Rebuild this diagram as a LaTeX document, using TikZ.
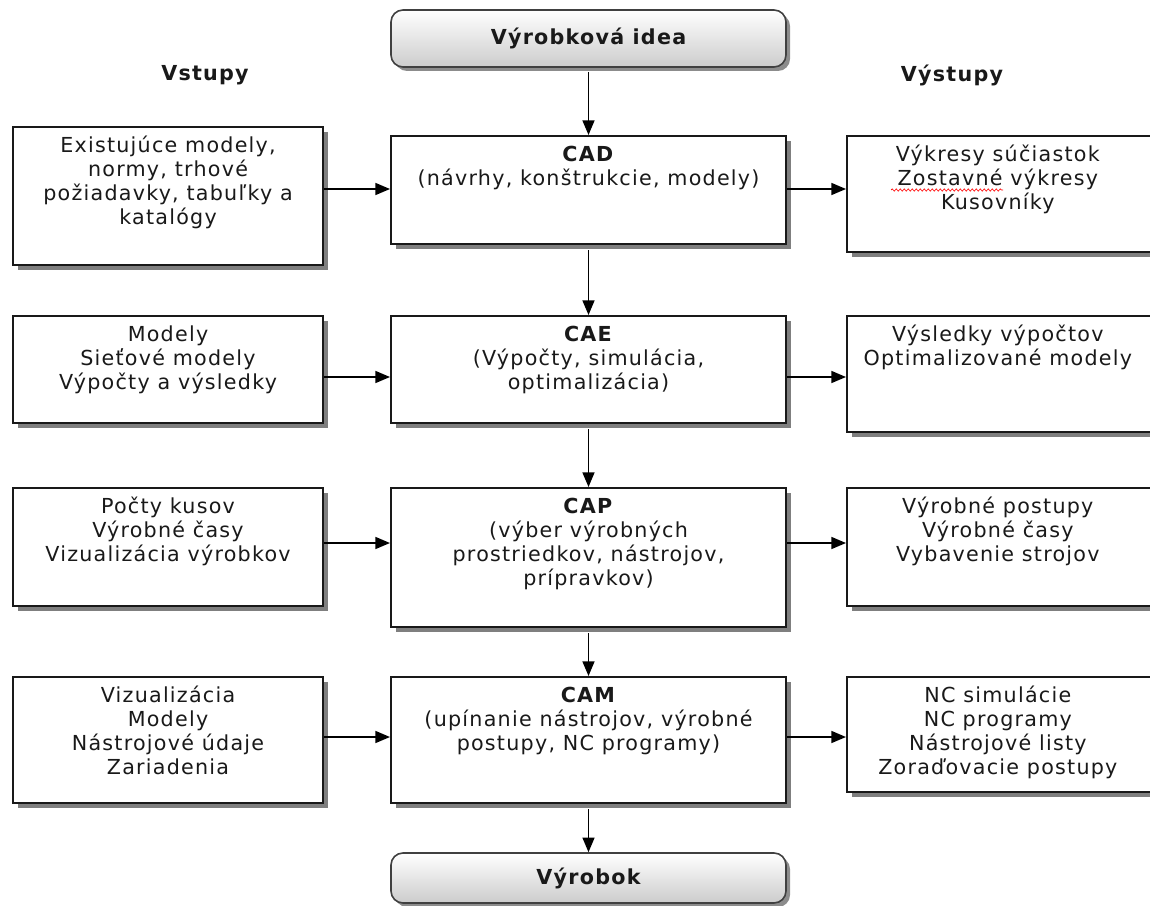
\documentclass[tikz,border=0pt]{standalone}
\usepackage{fontspec}
\setmainfont{DejaVu Sans}[LetterSpace=6]
\usetikzlibrary{shadows,arrows.meta,decorations.pathmorphing}
\newcommand\fl{\rule{0pt}{14pt}}
\newcommand\mkbox[6][box]{\node[#1, minimum width={(#5-#3)*0.75pt}, minimum height={(#6-#4)*0.75pt}] (#2) at ({(#3+#5)/2},{(#4+#6)/2}) {};}
\tikzset{
  box/.style={draw=black!90, line width=1.5pt, fill=white, inner sep=0pt,
    drop shadow={shadow xshift=4pt, shadow yshift=-4pt, fill=black, opacity=.5}},
  rbox/.style={draw=black!75, line width=1.2pt, rounded corners=9pt, top color=white, bottom color=black!20,
    inner sep=0pt, font=\bfseries, text=black!90,
    drop shadow={shadow xshift=3pt, shadow yshift=-3pt, fill=black, opacity=.45}},
  txt/.style={align=center, anchor=north, inner sep=0pt, text=black!90},
  arr/.style={line width=1.2pt, draw=black, -{Triangle[length=11pt,width=9pt]}},
  hdr/.style={font=\bfseries, text=black!90}
}
\begin{document}
\begin{tikzpicture}[x=0.75pt,y=-0.75pt]
\fontsize{15.5}{18}\selectfont
\useasboundingbox (0,0) rectangle (1150,906);
\clip (0,0) rectangle (1150,906);
% terminal boxes
\node[rbox, minimum width={395*0.75pt}, minimum height={57*0.75pt}] (top) at (588.5,38.5) {Výrobková idea};
\node[rbox, minimum width={395*0.75pt}, minimum height={50*0.75pt}] (bot) at (588.5,878) {Výrobok};
% headers
\node[hdr] (vst) at (205,75) {Vstupy};
\node[hdr] (vys) at (952,75) {Výstupy};
% row 1
\mkbox{L1}{13}{127}{323}{265}
\mkbox{C1}{391}{136}{786}{244}
\mkbox{R1}{847}{136}{1162}{252}
% row 2
\mkbox{L2}{13}{316}{323}{423}
\mkbox{C2}{391}{316}{786}{423}
\mkbox{R2}{847}{316}{1162}{432}
% row 3
\mkbox{L3}{13}{488}{323}{606}
\mkbox{C3}{391}{488}{786}{627}
\mkbox{R3}{847}{488}{1162}{606}
% row 4
\mkbox{L4}{13}{677}{323}{803}
\mkbox{C4}{391}{677}{786}{803}
\mkbox{R4}{847}{677}{1162}{792}
% texts
\node[txt] (tL1) at ([yshift=-6pt]L1.north) {\fl Existujúce modely,\\normy, trhové\\požiadavky, tabuľky a\\katalógy};
\node[txt] (tC1) at ([yshift=-6pt]C1.north) {\fl\textbf{CAD}\\(návrhy, konštrukcie, modely)};
\node[txt] (tR1) at ([yshift=-6pt,xshift=-5pt]R1.north) {\fl Výkresy súčiastok\\Zostavné výkresy\\Kusovníky};
\node[txt] (tL2) at ([yshift=-6pt]L2.north) {\fl Modely\\Sieťové modely\\Výpočty a výsledky};
\node[txt] (tC2) at ([yshift=-6pt]C2.north) {\fl\textbf{CAE}\\(Výpočty, simulácia,\\optimalizácia)};
\node[txt] (tR2) at ([yshift=-6pt,xshift=-5pt]R2.north) {\fl Výsledky výpočtov\\Optimalizované modely};
\node[txt] (tL3) at ([yshift=-6pt]L3.north) {\fl Počty kusov\\Výrobné časy\\Vizualizácia výrobkov};
\node[txt] (tC3) at ([yshift=-6pt]C3.north) {\fl\textbf{CAP}\\(výber výrobných\\prostriedkov, nástrojov,\\prípravkov)};
\node[txt] (tR3) at ([yshift=-6pt,xshift=-5pt]R3.north) {\fl Výrobné postupy\\Výrobné časy\\Vybavenie strojov};
\node[txt] (tL4) at ([yshift=-6pt]L4.north) {\fl Vizualizácia\\Modely\\Nástrojové údaje\\Zariadenia};
\node[txt] (tC4) at ([yshift=-6pt]C4.north) {\fl\textbf{CAM}\\(upínanie nástrojov, výrobné\\postupy, NC programy)};
\node[txt] (tR4) at ([yshift=-6pt,xshift=-5pt]R4.north) {\fl NC simulácie\\NC programy\\Nástrojové listy\\Zoraďovacie postupy};
% spell-check squiggle
\draw[red, line width=0.5pt, decorate, decoration={snake, amplitude=0.8pt, segment length=3pt}] (891,190) -- (1003,190);
% vertical arrows
\draw[arr, shorten <=3pt] (top.south) -- (C1.north);
\draw[arr, shorten <=4pt] (C1.south) -- (C2.north);
\draw[arr, shorten <=4pt] (C2.south) -- (C3.north);
\draw[arr, shorten <=4pt] (C3.south) -- (C4.north);
\draw[arr, shorten <=4pt] (C4.south) -- (bot.north);
% horizontal arrows
\coordinate (r1) at (0,189);
\coordinate (r2) at (0,377);
\coordinate (r3) at (0,543);
\coordinate (r4) at (0,737);
\foreach \i in {1,2,3,4}{
  \draw[arr] (L\i.east |- r\i) -- (C\i.west |- r\i);
  \draw[arr] (C\i.east |- r\i) -- (R\i.west |- r\i);
}
\end{tikzpicture}
\end{document}
